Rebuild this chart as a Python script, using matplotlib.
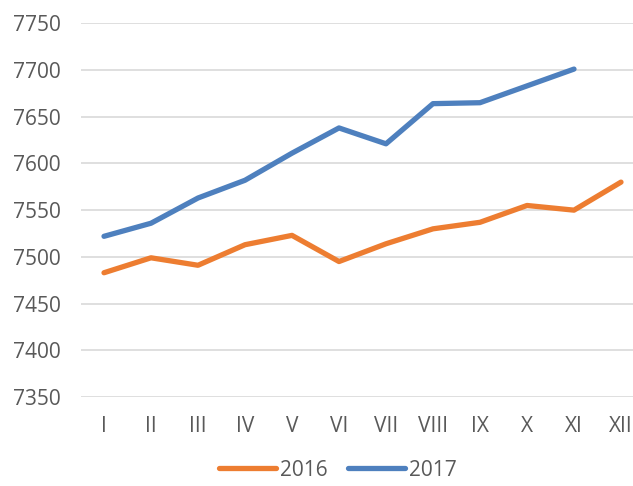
import numpy as np
import matplotlib
matplotlib.use('Agg')
import matplotlib.pyplot as plt

# Monthly values
months = ['I', 'II', 'III', 'IV', 'V', 'VI', 'VII', 'VIII', 'IX', 'X', 'XI', 'XII']
y2016 = [7483, 7499, 7491, 7513, 7523, 7495, 7514, 7530, 7537, 7555, 7550, 7580]
y2017 = [7522, 7536, 7563, 7582, 7611, 7638, 7621, 7664, 7665, 7683, 7701]
yticks = [7350, 7400, 7450, 7500, 7550, 7600, 7650, 7700, 7750]

plt.rcParams['font.family'] = ['Open Sans', 'DejaVu Sans']
txt = '#595959'

fig = plt.figure(figsize=(6.33, 4.86), dpi=100)
# plot area runs past the right edge, as in the original
ax = fig.add_axes([80.5/633, 89/486, 564/633, 373.7/486])

x = np.arange(len(months))
ax.plot(x, y2016, color='#ED7D31', lw=3.8, solid_capstyle='round', solid_joinstyle='round', label='2016')
ax.plot(x[:len(y2017)], y2017, color='#4E80BE', lw=3.8, solid_capstyle='round', solid_joinstyle='round', label='2017')

ax.set_xlim(-0.5, 11.5)
ax.set_ylim(7350, 7750)
ax.set_xticks(x)
ax.set_xticklabels(months)
ax.set_yticks(yticks)
ax.tick_params(axis='both', length=0, labelsize=15, colors=txt)
ax.tick_params(axis='y', pad=14)
ax.tick_params(axis='x', pad=14)
ax.grid(axis='y', color='#D9D9D9', lw=1.2)
ax.set_axisbelow(True)
for s in ax.spines.values():
    s.set_visible(False)

fig.legend(loc='center', bbox_to_anchor=(338/633, 1 - 470/486), ncol=2, frameon=False,
           fontsize=15, labelcolor=txt, handlelength=2.7, handletextpad=0.2, columnspacing=1.0)

fig.savefig('out.png', dpi=100)
